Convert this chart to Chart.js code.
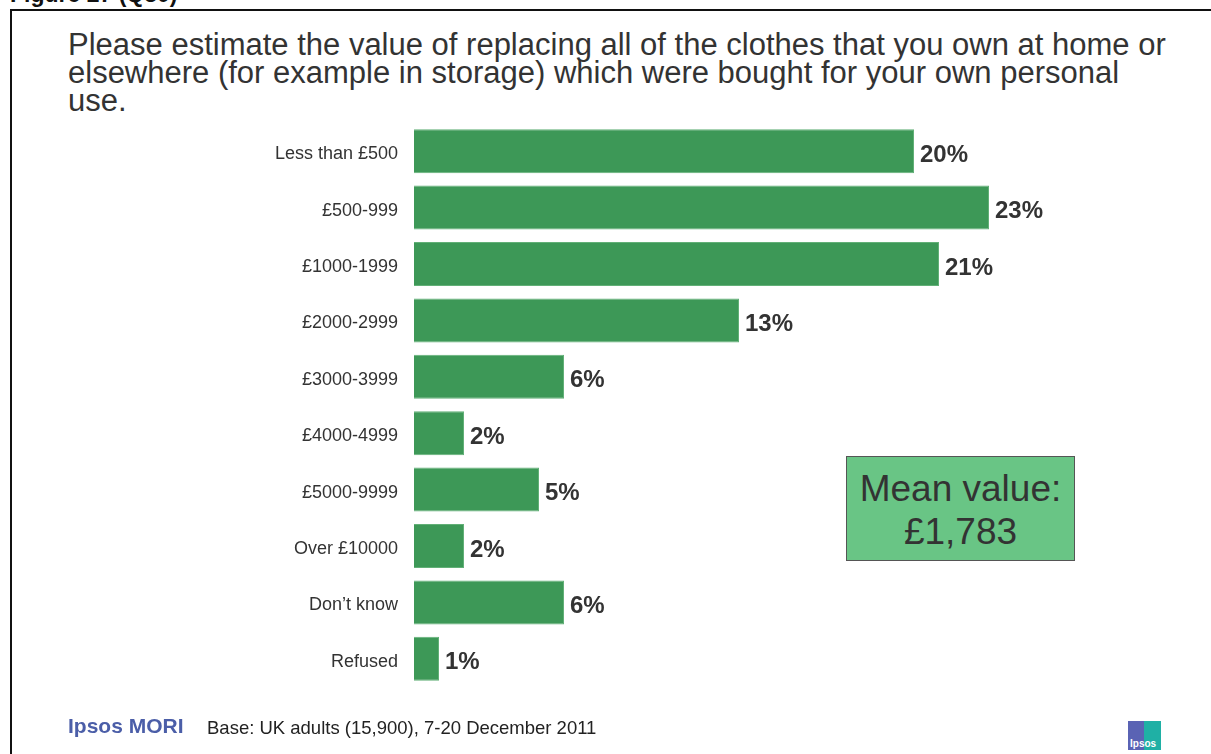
<!DOCTYPE html>
<html>
<head>
<meta charset="utf-8">
<script src="https://cdn.jsdelivr.net/npm/chart.js@4"></script>
<style>
  html, body { margin: 0; padding: 0; background: #fff; }
  body { width: 1211px; height: 754px; position: relative; overflow: hidden;
         font-family: "Liberation Sans", Arial, sans-serif; color: #333; }
  #fig { position: absolute; left: 10px; top: -19px; font-weight: bold; font-size: 23px; color: #111; }
  #frame { position: absolute; left: 10px; top: 9px; width: 1220px; height: 800px;
           border-left: 2px solid #111; border-top: 2px solid #111; }
  #question { position: absolute; left: 68px; top: 31px; font-size: 31px; line-height: 28px; color: #333; }
  #wrap { position: absolute; left: 0; top: 0; width: 1211px; height: 754px; }
  #mean { position: absolute; left: 846px; top: 456px; width: 227px;
          background: #69c585; border: 1px solid #555; text-align: center;
          font-size: 37px; line-height: 43px; color: #333;
          padding-top: 10px; height: 93px; }
  #brand { position: absolute; left: 68px; top: 714px; font-size: 21px; font-weight: bold; color: #4b5ea8; }
  #base { position: absolute; left: 207px; top: 717px; font-size: 18.5px; color: #222; }
  #logo { position: absolute; left: 1128px; top: 721px; width: 33px; height: 29px; overflow: hidden;
          background: linear-gradient(90deg, #5a63b4 50%, #1fb0a5 50%); }
  #logo span { position: absolute; left: 2px; bottom: 1px; font-size: 10px; color: #fff; font-weight: bold; }
</style>
</head>
<body>
<div id="fig">Figure 27 (Q30)</div>
<div id="frame"></div>
<div id="question">Please estimate the value of replacing all of the clothes that you own at home or<br>elsewhere (for example in storage) which were bought for your own personal<br>use.</div>
<div id="wrap"><canvas id="chart" width="1211" height="754"></canvas></div>
<div id="mean">Mean value:<br>£1,783</div>
<div id="brand">Ipsos MORI</div>
<div id="base">Base: UK adults (15,900), 7-20 December 2011</div>
<div id="logo"><span>Ipsos</span></div>
<script>
// categorías y porcentajes
const categorias = ["Less than £500", "£500-999", "£1000-1999", "£2000-2999", "£3000-3999",
  "£4000-4999", "£5000-9999", "Over £10000", "Don’t know", "Refused"];
const porcentajes = [20, 23, 21, 13, 6, 2, 5, 2, 6, 1];

// etiquetas de valor al final de cada barra
const etiquetas = {
  id: "etiquetas",
  afterDatasetsDraw(chart) {
    const ctx = chart.ctx;
    const meta = chart.getDatasetMeta(0);
    ctx.save();
    ctx.font = "bold 24px 'Liberation Sans', Arial, sans-serif";
    ctx.fillStyle = "#333";
    ctx.textBaseline = "middle";
    meta.data.forEach((bar, i) => {
      ctx.fillText(porcentajes[i] + "%", bar.x + 6, bar.y + 4);
    });
    ctx.restore();
  }
};

new Chart(document.getElementById("chart"), {
  type: "bar",
  data: {
    labels: categorias,
    datasets: [{
      data: porcentajes,
      backgroundColor: "#3d9857",
      borderColor: "#62b077",
      borderWidth: 1,
      barPercentage: 0.78,
      categoryPercentage: 1
    }]
  },
  options: {
    indexAxis: "y",
    responsive: false,
    animation: false,
    layout: { padding: { top: 123, bottom: 67, left: 0, right: 47 } },
    plugins: { legend: { display: false }, tooltip: { enabled: false } },
    scales: {
      x: { display: false, min: 0, max: 30 },
      y: {
        grid: { display: false, drawTicks: false },
        border: { display: false },
        ticks: { padding: 16, labelOffset: 3, color: "#333", font: { family: "'Liberation Sans', Arial, sans-serif", size: 18 } },
        afterFit(scale) { scale.width = 414; }
      }
    }
  },
  plugins: [etiquetas]
});
</script>
</body>
</html>
